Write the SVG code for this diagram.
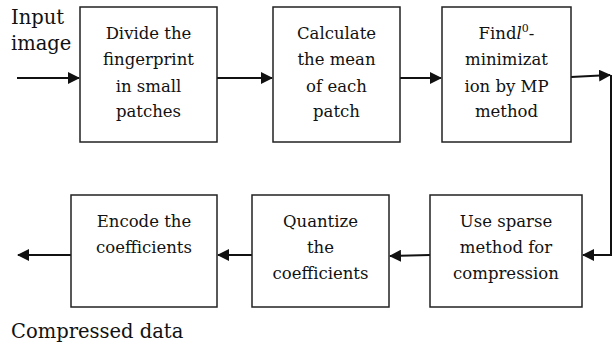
<svg xmlns="http://www.w3.org/2000/svg" width="613" height="348" viewBox="0 0 613 348">
<style>
.box{fill:#fff;stroke:#222;stroke-width:1.5}
.t{font-family:"DejaVu Serif","Liberation Serif",serif;font-size:16.5px;fill:#111;text-anchor:middle}
.big{font-family:"DejaVu Serif","Liberation Serif",serif;font-size:19.5px;fill:#111}
.c{fill:none;stroke:#111;stroke-width:2}
</style>
<defs>
<marker id="ah" markerWidth="12" markerHeight="12" refX="11" refY="6" orient="auto" markerUnits="userSpaceOnUse">
<path d="M0,0 L12,6 L0,12 Z" fill="#111"/>
</marker>
</defs>
<rect width="613" height="348" fill="#fff"/>
<text class="big" x="11" y="24">Input</text>
<text class="big" x="11" y="50">image</text>
<text class="big" x="11" y="338">Compressed data</text>
<g id="connectors">
<path class="c" d="M17,78 L79,78" marker-end="url(#ah)"/>
<path class="c" d="M217,78 L272,78" marker-end="url(#ah)"/>
<path class="c" d="M400,78 L441,78" marker-end="url(#ah)"/>
<path class="c" d="M571,77 L610,75" marker-end="url(#ah)"/>
<path class="c" d="M611,75 L611,255 L583,255" marker-end="url(#ah)"/>
<path class="c" d="M430,255 L390,256" marker-end="url(#ah)"/>
<path class="c" d="M252,255 L218,255" marker-end="url(#ah)"/>
<path class="c" d="M71,255 L18,255" marker-end="url(#ah)"/>
</g>
<g id="n1">
<rect class="box" x="80" y="7" width="137" height="135"/>
<text class="t" x="148.5" y="39">Divide the</text>
<text class="t" x="148.5" y="65">fingerprint</text>
<text class="t" x="148.5" y="92">in small</text>
<text class="t" x="148.5" y="117">patches</text>
</g>
<g id="n2">
<rect class="box" x="273" y="7" width="127" height="135"/>
<text class="t" x="336.5" y="39">Calculate</text>
<text class="t" x="336.5" y="65">the mean</text>
<text class="t" x="336.5" y="92">of each</text>
<text class="t" x="336.5" y="117">patch</text>
</g>
<g id="n3">
<rect class="box" x="442" y="7" width="129" height="135"/>
<text class="t" x="506.5" y="39">Find<tspan font-style="italic">l</tspan><tspan font-size="11" dy="-7">0</tspan><tspan dy="7">-</tspan></text>
<text class="t" x="506.5" y="65">minimizat</text>
<text class="t" x="506.5" y="92">ion by MP</text>
<text class="t" x="506.5" y="117">method</text>
</g>
<g id="n4">
<rect class="box" x="430" y="195" width="152" height="112"/>
<text class="t" x="506" y="227">Use sparse</text>
<text class="t" x="506" y="253">method for</text>
<text class="t" x="506" y="279">compression</text>
</g>
<g id="n5">
<rect class="box" x="252" y="195" width="137" height="112"/>
<text class="t" x="320.5" y="227">Quantize</text>
<text class="t" x="320.5" y="253">the</text>
<text class="t" x="320.5" y="279">coefficients</text>
</g>
<g id="n6">
<rect class="box" x="71" y="195" width="146" height="112"/>
<text class="t" x="144" y="227">Encode the</text>
<text class="t" x="144" y="253">coefficients</text>
</g>
</svg>
